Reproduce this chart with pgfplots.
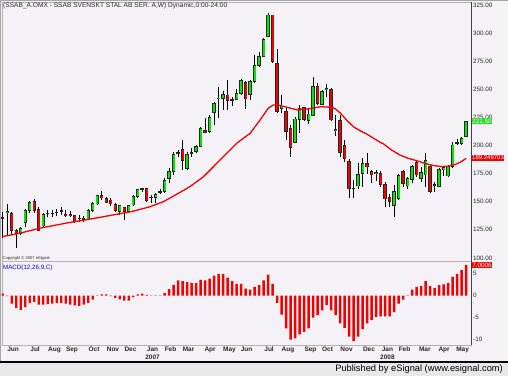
\documentclass[border=0pt]{standalone}
\usepackage{pgfplots}
\pgfplotsset{compat=1.18}
\usepackage{pgfplotstable}
\usepackage{fontspec}
\setmainfont{Liberation Sans}
\definecolor{panelbg}{RGB}{244,242,246}
\definecolor{cgreen}{RGB}{0,232,0}
\definecolor{cred}{RGB}{240,0,0}
\definecolor{lblgray}{RGB}{40,40,40}
\definecolor{boxgreen}{RGB}{40,220,40}

\pgfplotstableread{
i o h l c
0 135.5 141.1 117.4 136.0
1 140.0 148.0 120.4 141.5
2 139.6 141.1 120.4 124.8
3 124.0 125.5 108.5 121.5
4 121.8 127.8 120.4 126.3
5 131.3 143.2 127.2 142.0
6 142.0 150.9 140.2 149.4
7 150.0 152.1 139.7 142.6
8 143.2 145.0 124.2 124.8
9 128.4 140.2 126.3 138.8
10 139.3 142.6 136.7 139.9
11 139.9 142.6 136.7 139.5
12 140.2 143.2 137.3 140.6
13 141.6 145.0 138.2 142.2
14 138.8 142.6 136.7 137.6
15 138.2 142.0 136.7 137.3
16 137.3 138.2 130.7 132.8
17 135.2 138.2 132.2 135.4
18 134.6 137.3 132.2 134.8
19 134.6 143.2 133.7 142.0
20 142.0 150.0 141.1 148.5
21 148.0 156.0 147.1 155.1
22 155.1 159.5 151.5 153.9
23 152.4 154.5 148.5 149.4
24 151.5 153.0 146.2 148.0
25 147.7 148.5 141.1 142.0
26 141.1 147.1 138.2 146.2
27 144.4 145.6 133.7 141.1
28 141.1 147.1 139.7 146.2
29 147.1 156.0 146.2 154.5
30 154.5 161.3 153.6 160.4
31 161.3 162.5 158.9 161.0
32 161.9 162.5 150.0 151.5
33 153.9 156.0 148.5 153.6
34 153.9 157.4 148.5 156.0
35 158.9 161.0 156.9 159.2
36 158.9 170.8 158.0 168.7
37 170.8 179.7 166.3 176.7
38 176.7 194.5 173.8 191.6
39 193.0 196.0 190.1 193.4
40 196.0 204.9 178.2 187.1
41 179.7 194.5 178.2 191.6
42 193.0 197.5 190.1 193.4
43 194.5 200.4 193.0 199.0
44 199.5 216.8 198.5 215.3
45 213.0 224.2 210.8 212.0
46 212.3 227.1 211.4 225.0
47 229.2 239.0 218.2 237.5
48 241.5 251.7 224.2 242.2
49 241.6 248.8 231.6 245.2
50 244.9 258.3 231.6 239.9
51 240.5 243.4 235.1 240.2
52 241.1 249.9 240.5 246.4
53 246.4 258.9 244.9 257.7
54 255.9 257.7 232.2 241.4
55 245.8 258.3 240.5 256.8
56 256.8 280.5 255.9 271.0
57 271.6 283.5 270.1 279.0
58 279.0 295.3 278.4 294.5
59 297.4 318.2 296.2 316.1
60 316.1 316.5 273.1 274.6
61 273.1 286.0 229.2 230.1
62 233.1 245.0 229.0 235.1
63 230.1 233.1 204.9 212.3
64 215.0 218.2 190.1 198.0
65 203.0 225.6 201.9 223.5
66 223.3 236.0 211.4 233.1
67 233.6 234.5 222.1 223.3
68 222.1 232.2 219.1 228.0
69 227.1 260.6 226.2 252.3
70 252.3 255.3 236.0 237.5
71 236.9 249.4 236.0 247.9
72 249.5 254.7 243.4 250.5
73 250.0 250.9 222.1 222.7
74 213.0 227.1 208.4 214.5
75 222.0 227.1 190.1 193.6
76 200.0 205.0 185.0 188.0
77 185.6 188.0 153.0 161.5
78 161.5 169.3 153.0 162.0
79 164.0 184.1 161.0 173.8
80 175.0 188.6 163.4 184.1
81 183.6 193.0 174.5 181.0
82 176.7 178.2 167.0 173.8
83 175.3 178.2 168.0 176.0
84 175.0 177.6 163.5 165.5
85 165.0 167.5 145.0 152.5
86 153.6 157.0 145.0 150.0
87 146.5 164.5 136.4 158.9
88 153.0 174.5 151.5 173.2
89 176.7 178.2 163.4 166.3
90 164.0 171.7 161.0 170.2
91 169.9 182.6 166.3 181.2
92 184.7 186.5 172.3 173.8
93 170.8 181.2 167.8 175.8
94 173.8 193.6 163.4 186.5
95 181.7 182.6 158.0 158.9
96 164.5 167.8 158.9 165.0
97 163.4 179.7 162.8 178.2
98 178.5 181.7 172.9 180.0
99 172.9 182.6 171.7 181.2
100 181.7 203.4 179.7 200.4
101 202.2 205.5 200.4 202.8
102 201.9 207.9 200.4 206.4
103 207.9 222.1 207.3 221.5
}\candles

\pgfplotstableread{
i m
0 0.5
1 -0.1
2 -1.8
3 -2.8
4 -3.2
5 -2.6
6 -1.7
7 -1.4
8 -2.0
9 -2.0
10 -1.9
11 -1.8
12 -1.7
13 -1.7
14 -1.8
15 -2.0
16 -2.2
17 -2.3
18 -2.0
19 -1.6
20 -0.9
21 0.1
22 0.3
23 0.3
24 -0.1
25 -0.5
26 -0.8
27 -1.1
28 -1.1
29 -0.3
30 0.3
31 0.5
32 0.2
33 0.1
34 0.1
35 0.1
36 0.6
37 1.5
38 2.5
39 3.5
40 3.3
41 3.1
42 2.9
43 2.9
44 3.6
45 3.5
46 3.9
47 4.6
48 5.0
49 5.0
50 4.1
51 3.3
52 2.7
53 2.7
54 1.6
55 1.4
56 2.0
57 2.5
58 3.5
59 4.8
60 2.7
61 -1.6
62 -4.3
63 -7.4
64 -10.0
65 -9.7
66 -8.8
67 -8.2
68 -7.4
69 -5.0
70 -4.4
71 -3.3
72 -2.1
73 -3.3
74 -4.4
75 -6.3
76 -7.3
77 -9.3
78 -10.3
79 -9.3
80 -7.6
81 -6.3
82 -5.5
83 -4.8
84 -4.7
85 -4.7
86 -4.7
87 -3.7
88 -1.8
89 -0.9
90 0.1
91 1.4
92 2.0
93 2.2
94 3.3
95 2.2
96 1.8
97 2.4
98 2.6
99 2.9
100 4.3
101 5.0
102 5.8
103 7.0
}\macd

\begin{document}
\begin{tikzpicture}
\path[use as bounding box] (0pt,0pt) rectangle (508pt,376pt);
\fill[panelbg] (0pt,0pt) rectangle (508pt,376pt);
\draw[gray!70, line width=0.8pt] (0.4pt,14pt) -- (0.4pt,375.6pt) -- (508pt,375.6pt);
\coordinate (mainSW) at (2pt,115pt);
\coordinate (macdSW) at (2pt,31pt);
% bottom band
\fill[gray!18] (0pt,0pt) rectangle (508pt,13pt);
\draw[black, line width=2pt] (0pt,14pt) -- (508pt,14pt);
\node[anchor=east, inner sep=0pt, font=\fontsize{9.3}{10}\selectfont] at (503pt,7pt) {Published by eSignal (www.esignal.com)};

% ---------------- price panel ----------------
\begin{axis}[
  at={(mainSW)}, anchor=south west, scale only axis,
  width=469.5pt, height=259pt,
  xmin=-0.156, xmax=104.18, ymin=97.23, ymax=327.67,
  axis background/.style={fill=panelbg},
  axis line style={draw=gray!60, line width=0.6pt},
  xtick=\empty,
  ytick={100,125,150,175,200,225,250,275,300,325},
  yticklabels={100.00,125.00,150.00,175.00,200.00,225.00,250.00,275.00,300.00,325.00},
  yticklabel pos=right,
  tick style={draw=none},
  yticklabel style={font=\fontsize{6.3}{7}\selectfont, text=lblgray, inner sep=1.5pt},
  clip=false,
]
% wicks
\addplot[draw=none, mark=none,
  error bars/.cd, y dir=plus, y explicit, error mark=none,
  error bar style={draw=black, line width=0.9pt}]
  table[x=i, y=l, y error expr={\thisrow{h}-\thisrow{l}}] {\candles};
% body outlines
\addplot[draw=none, mark=none,
  error bars/.cd, y dir=both, y explicit, error mark=none,
  error bar style={draw=black!85, line width=3.4pt}]
  table[x=i, y expr={(\thisrow{o}+\thisrow{c})/2}, y error expr={abs(\thisrow{c}-\thisrow{o})/2+0.45}] {\candles};
% green bodies
\addplot[draw=none, mark=none,
  error bars/.cd, y dir=both, y explicit, error mark=none,
  error bar style={draw=cgreen, line width=2.2pt}]
  table[x=i, y expr={(\thisrow{o}+\thisrow{c})/2}, y error expr={(\thisrow{c}>=\thisrow{o})*max(abs(\thisrow{c}-\thisrow{o})/2-0.3,0)}] {\candles};
% red bodies
\addplot[draw=none, mark=none,
  error bars/.cd, y dir=both, y explicit, error mark=none,
  error bar style={draw=cred, line width=2.2pt}]
  table[x=i, y expr={(\thisrow{o}+\thisrow{c})/2}, y error expr={(\thisrow{c}<\thisrow{o})*max(abs(\thisrow{c}-\thisrow{o})/2-0.3,0)}] {\candles};
% moving average
\addplot[cred, line width=1.3pt, mark=none] coordinates {
(-0.16,118.6) (0,119.0) (3.8,121.9) (8.3,126.5) (14.2,131.0) (20.1,135.0) (25.3,138.8) (29.0,141.5) (32.7,145.5) (35.7,150.0) (37.5,154.0) (39.5,158.5) (41.6,163.4) (44.6,172.2) (48.3,187.1) (52.0,202.0) (55.0,210.9) (57.2,222.7) (59.0,233.1) (60.1,236.0) (61.2,236.0) (63.2,234.0) (65.5,231.6) (67.7,232.5) (70.7,234.5) (72.9,234.0) (73.8,233.0) (75.1,228.6) (76.4,222.7) (78.0,216.5) (79.4,213.2) (80.9,210.2) (82.4,206.5) (83.8,203.0) (84.6,201.5) (86.4,196.0) (88.3,191.5) (90.1,188.6) (92.0,186.5) (93.8,184.1) (95.6,182.3) (97.5,181.2) (99.3,181.7) (100.8,183.5) (101.9,185.6) (103.0,188.6)
};
\draw[black!75, line width=0.8pt] (rel axis cs:1,0) -- (rel axis cs:1,1);
\node[anchor=north west, inner sep=1pt, text=lblgray, font=\fontsize{6.6}{7}\selectfont] at (rel axis cs:0,1) {(SSAB\_A.OMX - SSAB SVENSKT STAL AB SER. A,W) Dynamic,0:00-24:00};
\node[anchor=south west, inner sep=0.5pt, text=lblgray, font=\fontsize{4.1}{5}\selectfont] at (rel axis cs:0,0) {Copyright © 2007 eSignal.};
\node[anchor=west, fill=boxgreen, text=white, inner xsep=0.6pt, inner ysep=0.8pt, font=\fontsize{6.3}{7}\selectfont] at (axis cs:104.18,221.5) {221.50};
\node[anchor=west, fill=cred, text=white, inner xsep=0.5pt, inner ysep=0.8pt, font=\fontsize{6}{7}\selectfont] at (axis cs:104.18,189.25) {189.249703};
\end{axis}

% ---------------- MACD panel ----------------
\begin{axis}[
  at={(macdSW)}, anchor=south west, scale only axis,
  width=469.5pt, height=84pt,
  xmin=-0.156, xmax=104.18, ymin=-11.2, ymax=7.9,
  axis background/.style={fill=panelbg},
  axis line style={draw=gray!60, line width=0.6pt},
  ytick={-10,-5,0,5},
  yticklabels={-10,-5,0,5},
  yticklabel pos=right,
  tick style={draw=none},
  yticklabel style={font=\fontsize{6.3}{7}\selectfont, text=lblgray, inner sep=1.5pt},
  xtick={2.3,7.2,11.5,15.4,20.3,24.5,28.4,33.3,37.3,41.3,46.1,50.4,54.2,59.2,63.4,68.4,72.2,76.4,81.4,85.5,89.3,93.8,98.1,102.2},
  xticklabels={Jun,Jul,Aug,Sep,Oct,Nov,Dec,{Jan\\2007},Feb,Mar,Apr,May,Jun,Jul,Aug,Sep,Oct,Nov,Dec,{Jan\\2008},Feb,Mar,Apr,May},
  xticklabel style={font=\fontsize{6.5}{8}\selectfont\bfseries, text=lblgray, align=center, anchor=north, inner sep=1.5pt},
  clip=false,
]
\addplot[ybar, bar width=2.4pt, fill=cred, draw=none] table[x=i, y=m] {\macd};
\draw[black!75, line width=0.8pt] (rel axis cs:1,0) -- (rel axis cs:1,1);
\node[anchor=north west, inner sep=1pt, yshift=-3pt, text=blue, font=\fontsize{6.2}{7}\selectfont] at (rel axis cs:0,1) {MACD(12,26,9,C)};
\node[anchor=west, fill=cred, text=white, inner xsep=0.6pt, inner ysep=0.8pt, font=\fontsize{6.3}{7}\selectfont] at (axis cs:104.18,7.0) {7.0006};
\end{axis}
\end{tikzpicture}
\end{document}
